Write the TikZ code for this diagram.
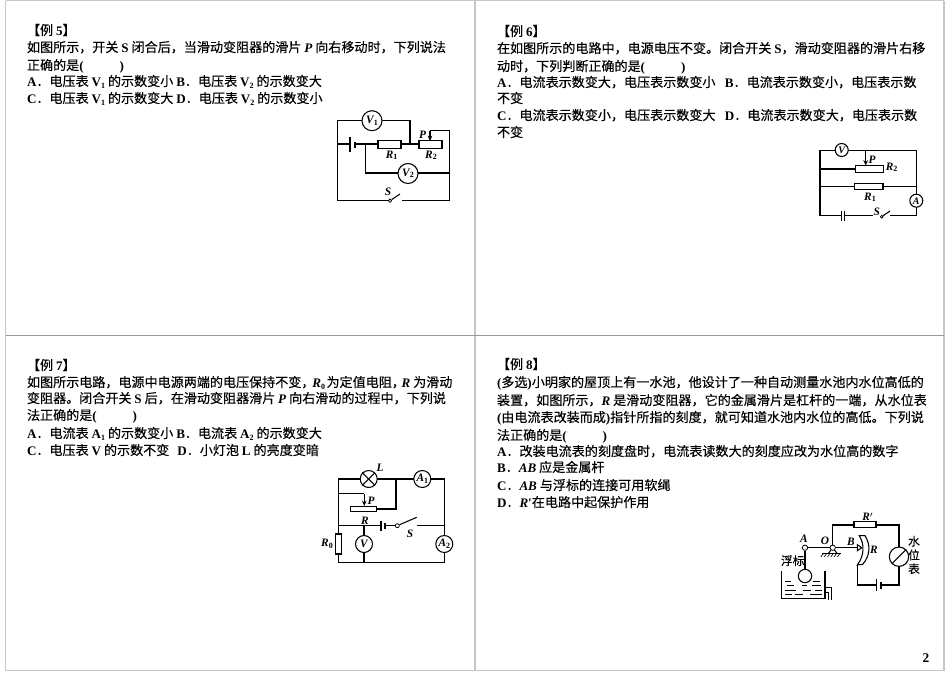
\documentclass[tikz,border=0pt]{standalone}
\usepackage{fontspec}
\setmainfont{Noto Sans CJK SC}[FakeBold=0.25]
\newfontfamily\lat{Liberation Serif}
\newcommand{\La}[1]{{\lat\bfseries #1}}
\newcommand{\Li}[1]{{\lat\bfseries\itshape #1}}
\newcommand{\Sb}[1]{\raisebox{-0.3ex}{\lat\bfseries\upshape\fontsize{6}{7}\selectfont #1}}
\usetikzlibrary{arrows.meta,calc}
\tikzset{
  txt/.style={anchor=base west,inner sep=0pt,outer sep=0pt,font=\fontsize{9.8}{12}\selectfont,text=black},
  frame/.style={draw=black!22,line width=1.2pt},
  framethin/.style={draw=black!40,line width=0.6pt},
  wire/.style={draw=black,line width=0.8pt},
  res/.style={draw=black,fill=white,line width=0.8pt,rectangle,inner sep=0pt},
  meter/.style={draw=black,fill=white,line width=0.8pt,circle,inner sep=0pt,minimum size=12.75pt,font=\lat\bfseries\itshape\fontsize{8.5}{9}\selectfont},
  lbl/.style={inner sep=0pt,font=\lat\bfseries\itshape\fontsize{8.5}{9}\selectfont},
  cjk/.style={inner sep=0pt,font=\fontsize{8.8}{10}\selectfont},
  tip/.style={-{Stealth[length=4pt,width=3.5pt]},line width=0.8pt},
  dot/.style={circle,draw=black,fill=white,line width=0.6pt,inner sep=0pt,minimum size=3pt}
}
\begin{document}
\begin{tikzpicture}[x=0.75pt,y=-0.75pt]
\useasboundingbox (0,0) rectangle (950,672);
% frames
\draw[frame] (5.5,0.5) -- (5.5,670.5);
\draw[frame] (475,0.5) -- (475,670.5);
\draw[frame] (944,0.5) -- (944,670.5);
\draw[frame] (5.5,0.5) -- (944,0.5);
\draw[frame] (5.5,670.5) -- (944,670.5);
\draw[framethin] (5.5,335.5) -- (944,335.5);
% ===== example 5 =====
\node[txt] (t51) at (27,35) {【例 \La{5}】};
\node[txt] (t52) at (27,52) {如图所示，开关 \La{S} 闭合后，当滑动变阻器的滑片 \Li{P} 向右移动时，下列说法};
\node[txt] (t53) at (27,70) {正确的是\La{(\hspace{27pt})}};
\node[txt] (t54) at (27,86) {\La{A}．电压表 \La{V}\Sb{1} 的示数变小 \La{B}．电压表 \La{V}\Sb{2} 的示数变大};
\node[txt] (t55) at (27,103) {\La{C}．电压表 \La{V}\Sb{1} 的示数变大 \La{D}．电压表 \La{V}\Sb{2} 的示数变小};
% circuit 5
\coordinate (a1) at (337.5,120.7);
\coordinate (a2) at (410,120.7);
\coordinate (a3) at (337.5,144);
\coordinate (a4) at (337.5,200.7);
\coordinate (a5) at (449.3,200.7);
\coordinate (a6) at (449.3,130.7);
\coordinate (a7) at (430,130.7);
\coordinate (a8) at (365.7,144);
\coordinate (a9) at (365.7,173);
\coordinate (a10) at (449.3,173);
\coordinate (a11) at (410,144);
\draw[wire] (a3) -- (a1) -- (a2) -- (a11);
\draw[wire] (a3) -- (a4) -- (388,200.7);
\draw[wire] (402,200.7) -- (a5) -- (a6) -- (a7);
\draw[wire] (a3) -- (350,144);
\draw[wire,line width=1pt] (350,137) -- (350,152);
\draw[wire,line width=1.4pt] (354.7,141.5) -- (354.7,147.7);
\draw[wire] (354.7,144) -- (a11) -- (419,144);
\draw[wire] (a8) -- (a9) -- (a10);
\node[res,minimum width=17.25pt,minimum height=6pt] (r51) at (389.5,144.7) {};
\node[res,minimum width=17.25pt,minimum height=6pt] (r52) at (430.5,144.7) {};
\draw[tip] (a7) -- (430,141);
\node[meter,minimum size=15pt] (v1) at (372,120.7) {V\Sb{1}};
\node[meter,minimum size=15pt] (v2) at (408,173.5) {V\Sb{2}};
\node[lbl] (l51) at (422.7,135) {P};
\node[lbl] (l52) at (391.7,155.5) {R\Sb{1}};
\node[lbl] (l53) at (431,155.5) {R\Sb{2}};
\node[lbl] (l54) at (388,192) {S};
\node[dot,minimum size=2.5pt] (s51) at (390,200.7) {};
\draw[wire] (s51) -- (400,194);
% ===== example 6 =====
\node[txt] (t61) at (497,36) {【例 \La{6}】};
\node[txt] (t62) at (497,53) {在如图所示的电路中，电源电压不变。闭合开关 \La{S}，滑动变阻器的滑片右移};
\node[txt] (t63) at (497,71) {动时，下列判断正确的是\La{(\hspace{27pt})}};
\node[txt] (t64) at (497,87) {\La{A}．电流表示数变大，电压表示数变小\hspace{7pt}\La{B}．电流表示数变小，电压表示数};
\node[txt] (t65) at (497,103) {不变};
\node[txt] (t66) at (497,120) {\La{C}．电流表示数变小，电压表示数变大\hspace{7pt}\La{D}．电流表示数变大，电压表示数};
\node[txt] (t67) at (497,137) {不变};
% circuit 6
\coordinate (b1) at (820,150.3);
\coordinate (b2) at (916.7,150.3);
\coordinate (b3) at (916.7,215.7);
\coordinate (b4) at (820,215.7);
\draw[wire] (b1) -- (b2) -- (b3) -- (890,215.7);
\draw[wire] (b1) -- (b4) -- (841.7,215.7);
\draw[wire] (844.3,215.7) -- (873,215.7);
\draw[wire,line width=1pt] (841.7,211) -- (841.7,221);
\draw[wire,line width=1pt] (844.3,211) -- (844.3,221);
\draw[wire] (820,169) -- (855,169);
\draw[wire] (820,186.3) -- (916.7,186.3);
\node[res,minimum width=21pt,minimum height=4.7pt] (r62) at (869.2,169) {};
\node[res,minimum width=21.7pt,minimum height=4.5pt] (r61) at (868.5,186.3) {};
\draw[tip] (865.7,150.3) -- (865.7,165.5);
\node[meter,minimum size=9.75pt,font=\lat\bfseries\itshape\fontsize{7.5}{8}\selectfont] (v6) at (841.7,150) {V};
\node[meter,minimum size=9.75pt,font=\lat\bfseries\itshape\fontsize{7.5}{8}\selectfont] (a6m) at (916.3,200.7) {A};
\node[lbl] (l61) at (872,160) {P};
\node[lbl] (l62) at (891.7,167.3) {R\Sb{2}};
\node[lbl] (l63) at (870,197.3) {R\Sb{1}};
\node[lbl] (l64) at (876.7,211.5) {S};
\node[dot,minimum size=2pt] (s61) at (881.7,216.7) {};
\draw[wire] (s61) -- (890,211);
% ===== example 7 =====
\node[txt] (t71) at (27,370) {【例 \La{7}】};
\node[txt] (t72) at (27,387) {如图所示电路，电源中电源两端的电压保持不变，\hspace{-1.5pt}\Li{R}\Sb{0}\hspace{1pt}为定值电阻，\hspace{-2.5pt}\Li{R} 为滑动};
\node[txt] (t73) at (27,403) {变阻器。闭合开关 \La{S} 后，在滑动变阻器滑片 \Li{P} 向右滑动的过程中，下列说};
\node[txt] (t74) at (27,420) {法正确的是\La{(\hspace{27pt})}};
\node[txt] (t75) at (27,438) {\La{A}．电流表 \La{A}\Sb{1} 的示数变小 \La{B}．电流表 \La{A}\Sb{2} 的示数变大};
\node[txt] (t76) at (27,455) {\La{C}．电压表 \La{V} 的示数不变\hspace{6pt}\La{D}．小灯泡 \La{L} 的亮度变暗};
% circuit 7
\coordinate (c1) at (338.3,479);
\coordinate (c2) at (444.3,479);
\coordinate (c3) at (444.3,562.3);
\coordinate (c4) at (338.3,562.3);
\coordinate (c5) at (338.3,525.7);
\coordinate (c6) at (338.3,493.7);
\coordinate (c7) at (396,479);
\coordinate (c8) at (396,509);
\coordinate (c9) at (364,525.7);
\coordinate (c10) at (364,562.3);
\draw[wire] (c1) -- (c2) -- (c3) -- (c4) -- (c1);
\draw[wire] (c6) -- (364.3,493.7);
\draw[tip] (364.3,493.7) -- (364.3,506);
\draw[wire] (c7) -- (c8) -- (376,509);
\draw[wire] (c5) -- (381,525.7);
\draw[wire] (c9) -- (c10);
\draw[wire,line width=1pt] (381,520.7) -- (381,531);
\draw[wire,line width=1.3pt] (385.3,522.5) -- (385.3,529);
\draw[wire] (385.3,525.7) -- (395.7,525.7);
\draw[wire] (416.7,525.7) -- (444.3,525.7);
\node[res,minimum width=19.5pt,minimum height=4pt] (r7) at (363.7,509) {};
\node[res,minimum width=4.5pt,minimum height=15pt] (r0) at (338.7,544) {};
\node[meter] (lamp) at (368.7,479) {};
\draw[wire] (lamp.north west) -- (lamp.south east);
\draw[wire] (lamp.north east) -- (lamp.south west);
\node[meter] (a71) at (422.3,479) {A\Sb{1}};
\node[meter] (a72) at (444.3,544) {A\Sb{2}};
\node[meter] (v7) at (364,544) {V};
\node[lbl] (l71) at (380,468) {L};
\node[lbl] (l72) at (371,501) {P};
\node[lbl] (l73) at (365,520.5) {R};
\node[lbl] (l74) at (410,533.7) {S};
\node[lbl] (l75) at (327,544) {R\Sb{0}};
\node[dot] (s71) at (397.3,525.7) {};
\draw[wire] (s71) -- (416.7,517.3);
% ===== example 8 =====
\node[txt] (t81) at (497,369) {【例 \La{8}】};
\node[txt] (t82) at (497,387) {\La{(}多选\La{)}小明家的屋顶上有一水池，他设计了一种自动测量水池内水位高低的};
\node[txt] (t83) at (497,405) {装置，如图所示，\Li{R} 是滑动变阻器，它的金属滑片是杠杆的一端，从水位表};
\node[txt] (t84) at (497,422) {\La{(}由电流表改装而成\La{)}指针所指的刻度，就可知道水池内水位的高低。下列说};
\node[txt] (t85) at (497,440) {法正确的是\La{(\hspace{27pt})}};
\node[txt] (t86) at (497,456) {\La{A}．改装电流表的刻度盘时，电流表读数大的刻度应改为水位高的数字};
\node[txt] (t87) at (497,472) {\La{B}．\Li{AB} 应是金属杆};
\node[txt] (t88) at (497,490) {\La{C}．\Li{AB} 与浮标的连接可用软绳};
\node[txt] (t89) at (497,507) {\La{D}．\Li{R}\La{'}在电路中起保护作用};
% circuit 8
\coordinate (d1) at (832.7,547.7);
\coordinate (d2) at (832.7,525);
\coordinate (d3) at (899,525);
\coordinate (d4) at (899,585);
\coordinate (d5) at (857.3,585);
\coordinate (d6) at (857.3,565);
\draw[wire] (d1) -- (d2) -- (d3) -- (d4) -- (881,585);
\draw[wire] (876.7,585) -- (d5) -- (d6);
\draw[wire,line width=1pt] (876.7,579) -- (876.7,591);
\draw[wire,line width=1.3pt] (881,582) -- (881,588.5);
\node[res,minimum width=16.5pt,minimum height=4.3pt] (r8) at (865,524.8) {};
\node[meter,minimum size=14.5pt] (wm) at (899,556.7) {};
\draw[wire] (wm.south west) -- (wm.north east);
% lever
\node[dot,minimum size=4pt] (pa) at (805,547.7) {};
\node[dot,minimum size=4pt] (po) at (832.7,547.7) {};
\draw[wire] (pa) -- (po);
\draw[wire] (po) -- (857.3,547.7);
\draw[wire] (po) -- (828.5,553.3);
\draw[wire] (po) -- (837,553.3);
\draw[wire] (pa) -- (805,570);
\draw[wire] (821.7,553.3) -- (840.7,553.3);
\foreach \k in {0,...,5}{\draw[wire,line width=0.5pt] ({823.5+3.3*\k},553.3) -- ({821+3.3*\k},556.7);}
% slider R (curved)
\draw[wire,fill=white] (859.3,535.7) .. controls (865,545) and (864,556) .. (857.3,565) -- (862.7,564.3) .. controls (870,556) and (871,545) .. (865,535.7) -- cycle;
\draw[wire,fill=white] (857.3,544.7) -- (861.7,547.7) -- (857.3,550.7) -- cycle;
% tank
\draw[wire] (781.7,571) -- (781.7,598.3) -- (825,598.3) -- (825,571);
\draw[wire] (825,587.7) -- (831.7,587.7) -- (831.7,600);
\draw[wire] (825,592.3) -- (828.3,592.3) -- (828.3,600);
\node[meter,minimum size=10pt] (fl) at (805,576) {};
\foreach \x/\y/\w in {785/581/6,813/581/7,787/585/7,802/585/5,812/585/9,785/590/11,803/590/8,815/590/7,785/594/7,795/594/8,810/594/12}{\draw[wire,line width=0.6pt] (\x,\y) -- (\x+\w,\y);}
\node[cjk] (l81) at (792.7,560.7) {浮标};
\node[lbl] (l82) at (804,539) {A};
\node[lbl] (l83) at (825,541) {O};
\node[lbl] (l84) at (851,541.7) {B};
\node[lbl] (l85) at (874,550) {R};
\node[lbl] (l86) at (868,516.7) {R\La{$'$}};
\node[cjk,align=center,font=\fontsize{8.8}{10.3}\selectfont] (l87) at (914,555) {水\\位\\表};
% page number
\node[inner sep=0pt,font=\lat\bfseries\fontsize{10}{12}\selectfont] (pg) at (926,658) {2};
\end{tikzpicture}
\end{document}
